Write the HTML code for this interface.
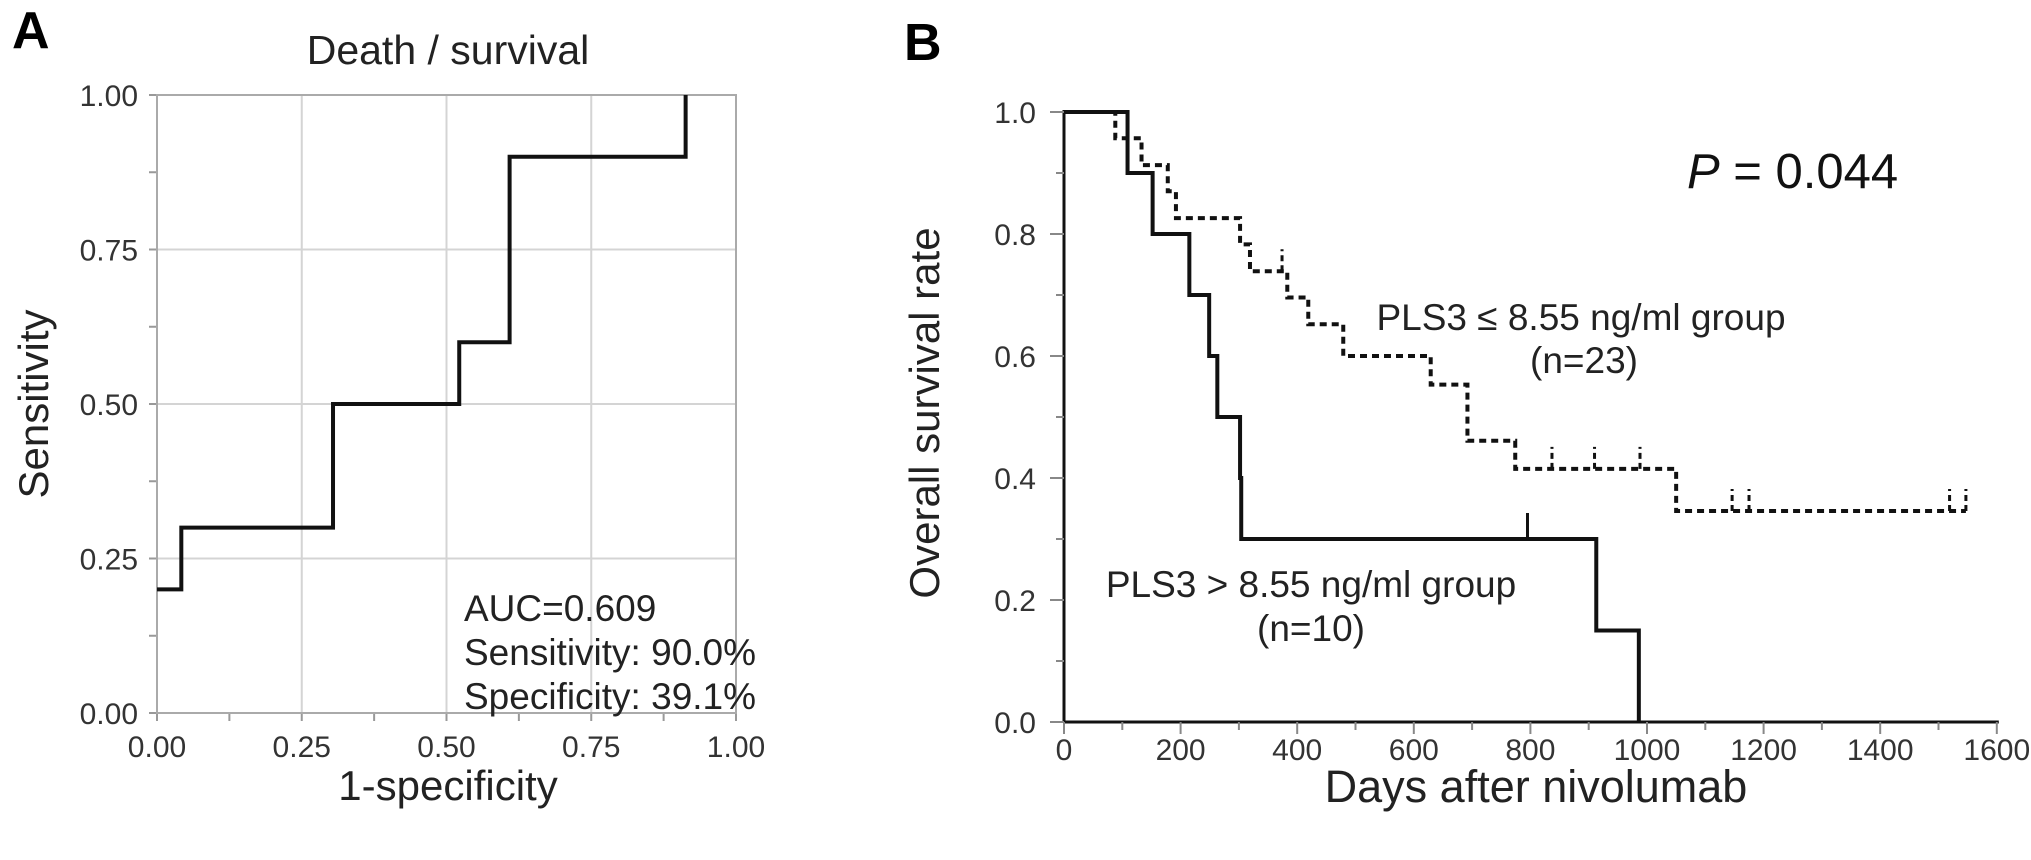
<!DOCTYPE html>
<html><head><meta charset="utf-8"><style>
html,body{margin:0;padding:0;background:#fff;}
svg{display:block;font-family:"Liberation Sans",Arial,sans-serif;}
</style></head><body>
<svg id="fig" width="2031" height="860" viewBox="0 0 2031 860" xmlns="http://www.w3.org/2000/svg">
<text x="12" y="48" font-size="52" font-weight="bold">A</text>
<text x="448" y="64" font-size="41" text-anchor="middle" fill="#222">Death / survival</text>
<g id="rocGrid"></g>
<g id="rocAxes"></g>
<path id="rocLine" fill="none" stroke="#111" stroke-width="4"/>
<text x="34" y="404" font-size="42" text-anchor="middle" fill="#222" transform="rotate(-90 34 404)" dy="14">Sensitivity</text>
<text x="448" y="800" font-size="42" text-anchor="middle" fill="#222">1-specificity</text>
<text x="464" y="621" font-size="37" fill="#222">AUC=0.609</text>
<text x="464" y="665" font-size="37" fill="#222">Sensitivity: 90.0%</text>
<text x="464" y="709" font-size="37" fill="#222">Specificity: 39.1%</text>

<text x="904" y="60" font-size="52" font-weight="bold">B</text>
<g id="kmAxes"></g>
<path id="kmHigh" fill="none" stroke="#111" stroke-width="4"/>
<path id="kmLow" fill="none" stroke="#111" stroke-width="4" stroke-dasharray="7,5"/>
<g id="kmCens"></g>
<text x="925" y="413" font-size="42" text-anchor="middle" fill="#222" transform="rotate(-90 925 413)" dy="14">Overall survival rate</text>
<text x="1536" y="802" font-size="45" text-anchor="middle" fill="#222">Days after nivolumab</text>
<text x="1687" y="188" font-size="49" fill="#111"><tspan font-style="italic">P</tspan> = 0.044</text>
<text x="1581" y="330" font-size="37" text-anchor="middle" fill="#222">PLS3 ≤ 8.55 ng/ml group</text>
<text x="1584" y="373" font-size="37" text-anchor="middle" fill="#222">(n=23)</text>
<text x="1311" y="597" font-size="37" text-anchor="middle" fill="#222">PLS3 &gt; 8.55 ng/ml group</text>
<text x="1311" y="641" font-size="37" text-anchor="middle" fill="#222">(n=10)</text>
</svg>
<script>
// ROC data
const rocFpr = [0, 0.042, 0.042, 0.304, 0.304, 0.522, 0.522, 0.609, 0.609, 0.913, 0.913];
const rocTpr = [0.2, 0.2, 0.3, 0.3, 0.5, 0.5, 0.6, 0.6, 0.9, 0.9, 1.0];
const rocTicks = [0, 0.25, 0.5, 0.75, 1.0];
const rocTickLabels = ["0.00", "0.25", "0.50", "0.75", "1.00"];
// KM data
const highTimes = [109, 152, 215, 249, 263, 302, 304, 913, 986];
const highSurv = [0.9, 0.8, 0.7, 0.6, 0.5, 0.4, 0.3, 0.15, 0.0];
const highCensor = [795];
const lowTimes = [88, 133, 178, 192, 302, 319, 383, 419, 479, 629, 692, 774, 1050];
const lowSurv = [0.957, 0.913, 0.870, 0.826, 0.783, 0.739, 0.696, 0.652, 0.600, 0.553, 0.461, 0.415, 0.346];
const lowCensor = [374, 837, 910, 988, 1146, 1175, 1519, 1547];
const kmXTicks = [0, 200, 400, 600, 800, 1000, 1200, 1400, 1600];
const kmYTicks = [0, 0.2, 0.4, 0.6, 0.8, 1.0];
const kmYLabels = ["0.0", "0.2", "0.4", "0.6", "0.8", "1.0"];

const NS = "http://www.w3.org/2000/svg";
function mk(parent, tag, attrs) {
  const e = document.createElementNS(NS, tag);
  for (const k in attrs) e.setAttribute(k, attrs[k]);
  parent.appendChild(e);
  return e;
}
// ROC axes
const ax = v => 157 + v * 579;
const ay = v => 713 - v * 618;
const g1 = document.getElementById('rocGrid');
const a1 = document.getElementById('rocAxes');
rocTicks.forEach((t, i) => {
  const vl = mk(g1, 'line', {x1: ax(t), x2: ax(t), y1: ay(0), y2: ay(1), stroke: '#d4d4d4', 'stroke-width': 2});
  
  
  const hl = mk(g1, 'line', {x1: ax(0), x2: ax(1), y1: ay(t), y2: ay(t), stroke: '#d4d4d4', 'stroke-width': 2});
  
  
  const xl = mk(a1, 'text', {x: ax(t), y: 757, 'font-size': 30, 'text-anchor': 'middle', fill: '#333'});
  xl.textContent = rocTickLabels[i];
  
  
  const yl = mk(a1, 'text', {x: 138, y: ay(t) + 11, 'font-size': 30, 'text-anchor': 'end', fill: '#333'});
  yl.textContent = rocTickLabels[i];
  
  
});
for (let k = 0; k <= 8; k++) {
  const v = k / 8;
  mk(a1, 'line', {x1: ax(v), x2: ax(v), y1: ay(0), y2: ay(0) + 8, stroke: '#999', 'stroke-width': 2});
  mk(a1, 'line', {x1: ax(0) - 8, x2: ax(0), y1: ay(v), y2: ay(v), stroke: '#999', 'stroke-width': 2});
}
const box = mk(a1, 'rect', {x: ax(0), y: ay(1), width: ax(1) - ax(0), height: ay(0) - ay(1), fill: 'none', stroke: '#aaa', 'stroke-width': 2});


document.getElementById('rocLine').setAttribute('d', rocFpr.map((f, i) => (i ? 'L' : 'M') + ax(f) + ' ' + ay(rocTpr[i])).join(' '));

// KM axes
const kx = d => 1064 + d * 0.583;
const ky = s => 722 - s * 610;
const a2 = document.getElementById('kmAxes');
mk(a2, 'line', {x1: kx(0), x2: kx(1600) + 2, y1: ky(0), y2: ky(0), stroke: '#111', 'stroke-width': 3});
mk(a2, 'line', {x1: kx(0), x2: kx(0), y1: ky(0), y2: ky(1) - 2, stroke: '#111', 'stroke-width': 3});
kmXTicks.forEach(t => {
  mk(a2, 'line', {x1: kx(t), x2: kx(t), y1: ky(0), y2: ky(0) + 12, stroke: '#888', 'stroke-width': 2});
  mk(a2, 'line', {x1: kx(t + 100), x2: kx(t + 100), y1: ky(0), y2: ky(0) + 8, stroke: '#888', 'stroke-width': 2});
  const l = mk(a2, 'text', {x: kx(t), y: 760, 'font-size': 30, 'text-anchor': 'middle', fill: '#333'});
  l.textContent = t;
  
  
});
kmYTicks.forEach((t, i) => {
  mk(a2, 'line', {x1: kx(0) - 14, x2: kx(0), y1: ky(t), y2: ky(t), stroke: '#888', 'stroke-width': 2});
  if (t < 1) mk(a2, 'line', {x1: kx(0) - 8, x2: kx(0), y1: ky(t + 0.1), y2: ky(t + 0.1), stroke: '#888', 'stroke-width': 2});
  const l = mk(a2, 'text', {x: 1036, y: ky(t) + 11, 'font-size': 30, 'text-anchor': 'end', fill: '#333'});
  l.textContent = kmYLabels[i];
  
  
});
function stepPath(times, surv, endT) {
  let d = 'M' + kx(0) + ' ' + ky(1);
  let cur = 1;
  times.forEach((t, i) => {
    d += ' L' + kx(t) + ' ' + ky(cur) + ' L' + kx(t) + ' ' + ky(surv[i]);
    cur = surv[i];
  });
  if (endT !== undefined) d += ' L' + kx(endT) + ' ' + ky(cur);
  return d;
}
function survAt(times, surv, t) {
  let s = 1;
  times.forEach((tt, i) => { if (tt <= t) s = surv[i]; });
  return s;
}
document.getElementById('kmHigh').setAttribute('d', stepPath(highTimes, highSurv));
document.getElementById('kmLow').setAttribute('d', stepPath(lowTimes, lowSurv, lowCensor[lowCensor.length - 1]));
const cg = document.getElementById('kmCens');
highCensor.forEach(t => {
  const s = survAt(highTimes, highSurv, t);
  const m = mk(cg, 'line', {x1: kx(t), x2: kx(t), y1: ky(s), y2: ky(s) - 26, stroke: '#111', 'stroke-width': 3});
  
  
});
lowCensor.forEach(t => {
  const s = survAt(lowTimes, lowSurv, t);
  const m = mk(cg, 'line', {x1: kx(t), x2: kx(t), y1: ky(s), y2: ky(s) - 22, stroke: '#111', 'stroke-width': 3, 'stroke-dasharray': '6,4'});
  
  
});
</script>
</body></html>
